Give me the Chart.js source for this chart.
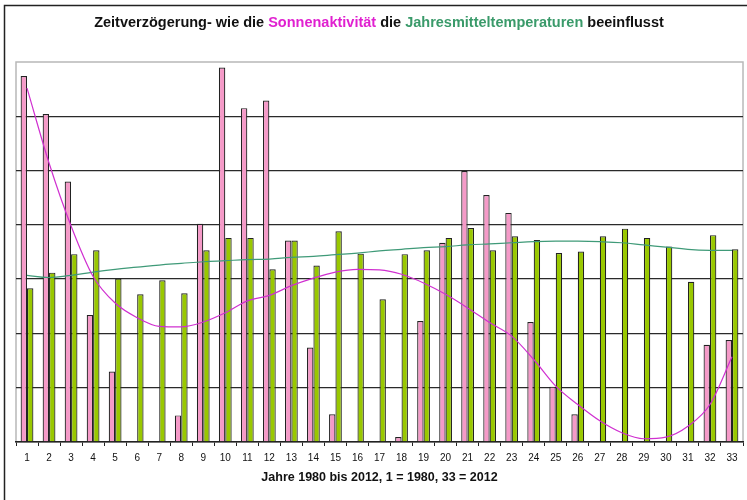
<!DOCTYPE html>
<html>
<head>
<meta charset="utf-8">
<script src="https://cdn.jsdelivr.net/npm/chart.js@4"></script>
<style>
  html, body { margin: 0; padding: 0; background: #fff; }
  #wrap { width: 747px; height: 500px; position: relative; }
</style>
</head>
<body>
<div id="wrap"><canvas id="sunChart" width="747" height="500"></canvas></div>
<script>
// Jahre 1..33 (1980..2012)
const years = Array.from({ length: 33 }, (_, i) => String(i + 1));

// Sonnenaktivitaet (rosa Balken)
const sunValues = [6.74, 6.04, 4.80, 2.34, 1.30, 0, 0, 0.49, 4.02, 6.90, 6.15,
  6.29, 3.71, 1.74, 0.51, 0, 0, 0.09, 2.23, 3.67, 4.99, 4.55,
  4.22, 2.21, 1.02, 0.51, 0, 0, 0, 0, 0, 1.79, 1.88];

// Jahresmitteltemperatur (gruene Balken)
const tempValues = [2.83, 3.12, 3.46, 3.53, 3.01, 2.72, 2.98, 2.74, 3.53, 3.76, 3.76,
  3.18, 3.71, 3.25, 3.88, 3.47, 2.63, 3.46, 3.53, 3.76, 3.94, 3.53,
  3.79, 3.72, 3.48, 3.51, 3.79, 3.93, 3.76, 3.60, 2.95, 3.81, 3.55];

// Trendlinien
const sunTrend = [6.52, 5.14, 3.98, 3.05, 2.56, 2.29, 2.13, 2.12, 2.21, 2.38, 2.60,
  2.70, 2.88, 3.02, 3.13, 3.18, 3.17, 3.09, 2.93, 2.72, 2.47, 2.20,
  1.95, 1.52, 1.03, 0.69, 0.39, 0.17, 0.06, 0.09, 0.29, 0.69, 1.57];

const tempTrend = [3.07, 3.03, 3.07, 3.13, 3.18, 3.22, 3.26, 3.29, 3.32, 3.34, 3.36,
  3.37, 3.40, 3.42, 3.45, 3.48, 3.52, 3.55, 3.58, 3.60, 3.63, 3.65,
  3.67, 3.69, 3.70, 3.70, 3.69, 3.67, 3.63, 3.59, 3.55, 3.53, 3.53];

const titleParts = [
  ['Zeitverzögerung- wie die ', '#111111'],
  ['Sonnenaktivität', '#e020d0'],
  [' die ', '#111111'],
  ['Jahresmitteltemperaturen', '#3a9a6a'],
  [' beeinflusst', '#111111']
];

// Rahmen, Plotbereich und farbiger Titel
const framePlugin = {
  id: 'frame',
  beforeDraw(chart) {
    const { ctx, chartArea: a } = chart;
    ctx.save();
    ctx.strokeStyle = '#222';
    ctx.lineWidth = 1.5;
    ctx.beginPath();
    ctx.moveTo(4.5, 500);
    ctx.lineTo(4.5, 5.5);
    ctx.lineTo(747, 5.5);
    ctx.stroke();
    ctx.strokeStyle = '#b8b8b8';
    ctx.lineWidth = 1.5;
    ctx.strokeRect(a.left, a.top, a.right - a.left, a.bottom - a.top);
    ctx.restore();
  },
  afterDraw(chart) {
    const ctx = chart.ctx;
    ctx.save();
    ctx.font = 'bold 14.5px "Liberation Sans", Arial, sans-serif';
    ctx.textBaseline = 'middle';
    let total = 0;
    titleParts.forEach(p => { total += ctx.measureText(p[0]).width; });
    let x = 379 - total / 2;
    titleParts.forEach(p => {
      ctx.fillStyle = p[1];
      ctx.fillText(p[0], x, 23);
      x += ctx.measureText(p[0]).width;
    });
    ctx.restore();
  }
};

new Chart(document.getElementById('sunChart'), {
  data: {
    labels: years,
    datasets: [
      {
        type: 'line', label: 'Trend Sonne', data: sunTrend,
        borderColor: '#d030d0', borderWidth: 1.2, pointRadius: 0,
        tension: 0.4, cubicInterpolationMode: 'monotone', order: 0
      },
      {
        type: 'line', label: 'Trend Temperatur', data: tempTrend,
        borderColor: '#3f9a78', borderWidth: 1.2, pointRadius: 0,
        tension: 0.4, order: 0
      },
      {
        type: 'bar', label: 'Sonnenaktivität', data: sunValues,
        backgroundColor: '#f59ac8', borderColor: '#222', borderWidth: 1.2,
        categoryPercentage: 0.58, barPercentage: 1, order: 1
      },
      {
        type: 'bar', label: 'Temperatur', data: tempValues,
        backgroundColor: '#99c800', borderColor: '#222', borderWidth: 1.2,
        categoryPercentage: 0.58, barPercentage: 1, order: 1
      }
    ]
  },
  options: {
    responsive: false,
    animation: false,
    layout: { padding: { left: 16, right: 4, top: 62, bottom: 15 } },
    plugins: {
      legend: { display: false },
      title: { display: false },
      tooltip: { enabled: false }
    },
    scales: {
      x: {
        grid: {
          offset: true, drawOnChartArea: false, drawTicks: true,
          tickLength: 4, color: '#222', lineWidth: 1
        },
        border: { display: true, color: '#222', width: 1.5 },
        ticks: {
          color: '#111', font: { family: '"Liberation Sans", Arial, sans-serif', size: 10 },
          padding: 6, maxRotation: 0, autoSkip: false
        },
        title: {
          display: true, text: 'Jahre 1980 bis 2012, 1 = 1980, 33 = 2012',
          color: '#111', font: { family: '"Liberation Sans", Arial, sans-serif', size: 12.5, weight: 'bold' },
          padding: { top: 2, bottom: 0 }
        },
        afterFit(scale) { scale.height = 43; }
      },
      y: {
        min: 0, max: 7,
        ticks: { display: false, stepSize: 1 },
        border: { display: false },
        grid: {
          drawTicks: false,
          color: c => (c.tick.value === 0 || c.tick.value === 7) ? 'rgba(0,0,0,0)' : '#2a2a2a',
          lineWidth: 1.3
        },
        afterFit(scale) { scale.width = 0; }
      }
    }
  },
  plugins: [framePlugin]
});
</script>
</body>
</html>
